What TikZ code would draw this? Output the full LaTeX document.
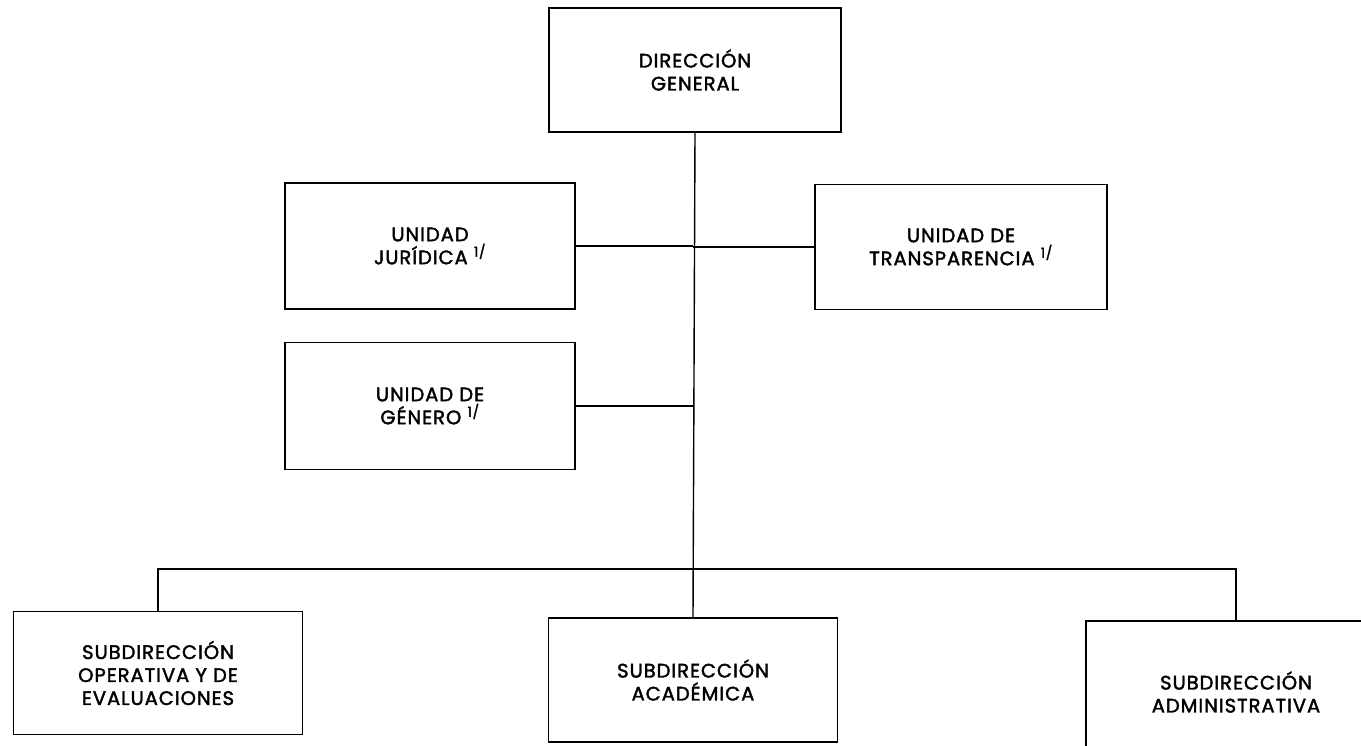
\documentclass[tikz,border=0pt]{standalone}
\usepackage{fontspec}
\setmainfont[LetterSpace=5,FakeBold=2]{Poppins}
\usetikzlibrary{positioning}

\tikzset{
  orgbox/.style={draw,line width=1.6pt,align=center,inner sep=0pt,
    font=\fontsize{19.5}{23}\selectfont},
  orgline/.style={line width=1.4pt}
}
\newcommand{\nota}{\ \textsuperscript{1/}}

\begin{document}
\begin{tikzpicture}[x=1pt,y=-1pt]
  \useasboundingbox (0,0) rectangle (1361,746);
  % dirección
  \node[orgbox,minimum width=292pt,minimum height=124pt] (dg) at (695,70) {DIRECCIÓN\\GENERAL};
  % unidades
  \node[orgbox,minimum width=290pt,minimum height=126pt] (jur) at (430,246) {UNIDAD\\JURÍDICA\nota};
  \node[orgbox,minimum width=290pt,minimum height=127pt] (gen) at (430,406) {UNIDAD DE\\GÉNERO\nota};
  \node[orgbox,minimum width=292pt,minimum height=125pt] (trans) at (961,247) {UNIDAD DE\\TRANSPARENCIA\nota};
  % subdirecciones
  \node[orgbox,minimum width=289pt,minimum height=123pt] (oper) at (158,673) {SUBDIRECCIÓN\\OPERATIVA Y DE\\EVALUACIONES};
  \node[orgbox,minimum width=289pt,minimum height=124pt] (acad) at (693,680) {SUBDIRECCIÓN\\ACADÉMICA};
  \node[orgbox,minimum width=300pt,minimum height=142pt] (admin) at (1236,692) {SUBDIRECCIÓN\\ADMINISTRATIVA};
  \coordinate (bus) at (693,569);

  \draw[orgline] (dg.south) -- (acad.north);
  \draw[orgline] (jur.east) -- (jur.east -| acad.north);
  \draw[orgline] (trans.west) -- (trans.west -| acad.north);
  \draw[orgline] (gen.east) -- (gen.east -| acad.north);
  \draw[orgline] (oper.north) |- (bus) -| (admin.north);
\end{tikzpicture}
\end{document}
